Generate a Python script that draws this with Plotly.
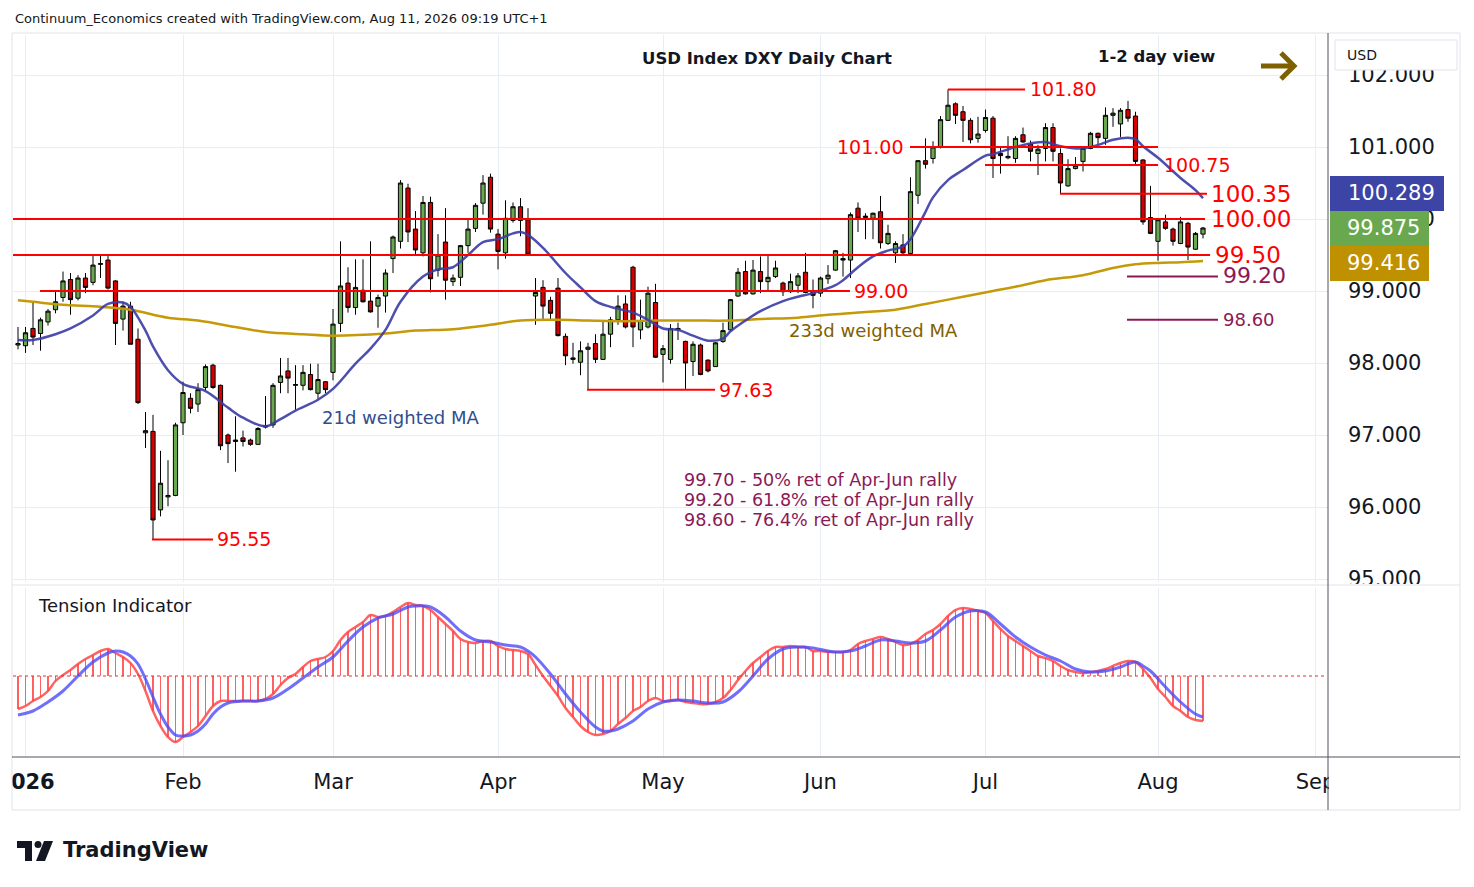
import plotly.graph_objects as go
import pandas as pd

FONT = "DejaVu Sans"

# ---------------- data ----------------
DATES = ["2025-12-31"] + [d.strftime("%Y-%m-%d") for d in pd.bdate_range("2026-01-02", "2026-08-11")]
CAL = ["2025-12-31"] + [d.strftime("%Y-%m-%d") for d in pd.bdate_range("2026-01-02", "2026-09-30")]
MONTH_LABELS = ["<b>2026</b>", "Feb", "Mar", "Apr", "May", "Jun", "Jul", "Aug", "Sep"]

OPEN = [98.25, 98.24, 98.48, 98.41, 98.57, 98.74, 98.91, 99.16, 98.90, 99.18,
        99.12, 99.37, 99.43, 99.14, 98.61, 98.79, 98.33, 97.03, 97.05, 95.96,
        96.14, 96.16, 97.17, 97.51, 97.43, 97.66, 97.97, 97.69, 97.00, 96.91,
        96.96, 96.93, 96.87, 97.11, 97.14, 97.73, 97.89, 97.69, 97.69, 97.84,
        97.58, 97.74, 97.87, 98.55, 99.11, 98.77, 99.01, 98.86, 98.79, 98.93,
        99.45, 99.69, 100.43, 99.86, 99.53, 100.23, 99.29, 99.68, 99.13, 99.19,
        99.63, 99.87, 100.22, 100.58, 99.79, 99.53, 99.98, 100.17, 99.99, 98.93,
        99.05, 98.87, 99.04, 98.37, 98.05, 98.01, 98.19, 98.27, 98.05, 98.40,
        98.60, 98.82, 99.33, 98.46, 98.50, 98.84, 98.12, 98.05, 98.46, 98.30,
        98.02, 98.25, 98.04, 97.95, 98.30, 98.46, 98.93, 99.27, 98.96, 99.27,
        99.13, 99.20, 99.11, 98.99, 99.08, 99.26, 99.00, 98.97, 99.17, 99.29,
        99.45, 99.43, 100.15, 100.02, 100.01, 100.10, 99.66, 99.53, 99.64, 99.52,
        100.33, 100.81, 100.84, 101.00, 101.37, 101.60, 101.49, 101.37, 101.12, 101.23,
        101.40, 100.91, 100.85, 100.84, 101.17, 101.04, 100.91, 100.98, 101.27, 100.91,
        100.46, 100.70, 100.80, 100.98, 101.19, 101.12, 101.44, 101.32, 101.52, 101.43,
        100.82, 100.02, 99.69, 99.96, 99.86, 99.66, 99.94, 99.58, 99.79]
HIGH = [98.50, 98.50, 98.85, 98.63, 98.75, 98.99, 99.27, 99.25, 99.22, 99.25,
        99.49, 99.49, 99.49, 99.15, 98.85, 98.85, 98.48, 97.32, 97.28, 96.78,
        96.65, 97.17, 97.74, 97.58, 97.72, 97.98, 97.99, 97.70, 97.02, 97.26,
        97.06, 96.95, 97.11, 97.54, 97.72, 98.07, 98.07, 97.97, 97.97, 97.99,
        97.99, 97.75, 98.75, 99.69, 99.33, 99.44, 99.44, 99.69, 98.95, 99.30,
        99.77, 100.54, 100.49, 100.11, 100.32, 100.31, 99.79, 100.15, 99.23, 99.64,
        99.99, 100.22, 100.61, 100.63, 99.86, 100.26, 100.23, 100.29, 100.15, 99.18,
        99.15, 98.92, 99.18, 98.41, 98.28, 98.30, 98.28, 98.40, 98.57, 98.64,
        98.94, 98.94, 99.35, 98.88, 99.06, 99.10, 98.25, 98.54, 98.56, 98.31,
        98.30, 98.27, 98.05, 98.29, 98.56, 98.89, 99.32, 99.42, 99.43, 99.48,
        99.49, 99.42, 99.13, 99.24, 99.25, 99.53, 99.16, 99.20, 99.36, 99.57,
        99.53, 100.09, 100.23, 100.08, 100.09, 100.32, 99.92, 99.69, 99.79, 100.58,
        100.82, 101.12, 101.08, 101.43, 101.80, 101.62, 101.57, 101.40, 101.42, 101.52,
        101.43, 101.00, 101.15, 101.15, 101.27, 101.09, 101.03, 101.33, 101.33, 100.98,
        100.83, 100.86, 101.00, 101.21, 101.20, 101.55, 101.54, 101.54, 101.64, 101.49,
        100.83, 100.46, 100.00, 100.06, 99.88, 100.03, 99.96, 99.82, 99.89]
LOW = [98.19, 98.14, 98.25, 98.17, 98.52, 98.69, 98.85, 98.67, 98.87, 98.97,
       99.08, 99.18, 99.02, 98.25, 98.45, 98.26, 97.43, 96.82, 95.55, 95.87,
       96.01, 96.15, 97.00, 97.30, 97.32, 97.62, 97.64, 96.79, 96.61, 96.49,
       96.84, 96.85, 96.87, 97.09, 97.10, 97.58, 97.58, 97.35, 97.62, 97.62,
       97.50, 97.58, 97.76, 98.43, 98.70, 98.67, 98.84, 98.70, 98.49, 98.70,
       99.25, 99.59, 99.68, 99.51, 99.48, 98.98, 99.20, 98.88, 99.07, 99.07,
       99.53, 99.82, 100.06, 99.81, 99.30, 99.45, 99.95, 99.76, 99.50, 98.53,
       98.61, 98.61, 98.37, 97.97, 97.99, 97.83, 97.63, 98.00, 98.05, 98.22,
       98.53, 98.48, 98.22, 98.33, 98.48, 98.07, 97.73, 97.99, 98.32, 97.64,
       97.82, 97.83, 97.87, 97.95, 98.28, 98.45, 98.92, 98.95, 98.95, 98.97,
       98.99, 99.18, 98.93, 98.97, 98.97, 98.97, 98.76, 98.92, 99.10, 99.28,
       99.20, 99.18, 99.82, 99.72, 99.72, 99.59, 99.64, 99.39, 99.49, 99.51,
       100.21, 100.70, 100.77, 100.98, 101.36, 101.32, 101.07, 101.05, 101.06, 101.20,
       100.57, 100.63, 100.83, 100.78, 101.06, 100.80, 100.61, 100.80, 100.80, 100.35,
       100.45, 100.69, 100.66, 100.97, 101.03, 101.03, 101.28, 101.14, 101.35, 100.76,
       99.92, 99.79, 99.42, 99.85, 99.63, 99.65, 99.43, 99.57, 99.73]
CLOSE = [98.27, 98.42, 98.36, 98.60, 98.72, 98.85, 99.14, 98.88, 99.18, 99.05,
         99.36, 99.38, 99.04, 98.55, 98.79, 98.26, 97.45, 97.06, 95.82, 96.33,
         96.16, 97.14, 97.59, 97.37, 97.63, 97.95, 97.66, 96.85, 96.88, 96.93,
         96.91, 96.87, 97.09, 97.13, 97.69, 97.82, 97.79, 97.70, 97.87, 97.63,
         97.77, 97.63, 98.54, 99.07, 98.77, 99.05, 98.85, 98.71, 98.91, 99.25,
         99.75, 100.50, 99.82, 99.57, 100.23, 99.17, 99.50, 99.15, 99.18, 99.63,
         99.86, 100.19, 100.50, 99.86, 99.55, 100.01, 100.17, 99.98, 99.51, 98.98,
         98.79, 98.69, 98.38, 98.10, 98.07, 98.17, 98.22, 98.05, 98.40, 98.60,
         98.79, 98.50, 98.50, 98.59, 98.97, 98.08, 98.20, 98.48, 98.48, 98.00,
         98.26, 97.84, 97.89, 98.28, 98.45, 98.88, 99.26, 98.96, 99.29, 99.13,
         99.19, 99.32, 98.99, 99.13, 99.21, 98.98, 98.94, 99.18, 99.22, 99.56,
         99.43, 100.06, 100.01, 100.04, 100.08, 99.67, 99.80, 99.66, 99.53, 100.38,
         100.81, 100.76, 101.00, 101.38, 101.58, 101.44, 101.37, 101.10, 101.18, 101.41,
         100.84, 100.88, 100.87, 101.12, 101.07, 100.94, 100.97, 101.27, 100.94, 100.50,
         100.70, 100.74, 100.98, 101.19, 101.13, 101.44, 101.47, 101.51, 101.40, 100.80,
         99.96, 99.80, 99.99, 99.87, 99.69, 99.96, 99.61, 99.80, 99.875]

# 21-day weighted MA
MA21_AT = [0, 2, 5, 7, 10, 12, 14, 15, 17, 18, 20, 22, 25, 28, 30, 33, 35, 37, 40, 42,
           45, 47, 49, 51, 54, 56, 58, 60, 62, 64, 66, 67, 68, 70, 73, 75, 77, 79, 82, 84,
           86, 88, 90, 92, 94, 95, 97, 99, 102, 104, 106, 109, 110, 112, 114, 116, 118, 119, 121, 122,
           124, 126, 129, 130, 133, 135, 137, 139, 142, 144, 146, 148, 149, 150, 152, 155, 157, 158]
MA21 = [98.32, 98.32, 98.40, 98.48, 98.66, 98.82, 98.84, 98.78, 98.45, 98.23, 97.90, 97.71, 97.61, 97.38, 97.24, 97.12, 97.22, 97.34, 97.49, 97.64,
        97.99, 98.20, 98.46, 98.85, 99.20, 99.30, 99.33, 99.50, 99.68, 99.72, 99.80, 99.82, 99.78, 99.60, 99.25, 99.05, 98.86, 98.78, 98.70, 98.60,
        98.48, 98.46, 98.38, 98.31, 98.34, 98.44, 98.59, 98.72, 98.86, 98.92, 98.97, 99.08, 99.15, 99.33, 99.48, 99.56, 99.62, 99.72, 100.10, 100.30,
        100.54, 100.68, 100.88, 100.90, 101.00, 101.05, 101.07, 101.01, 100.98, 101.03, 101.10, 101.13, 101.11, 101.01, 100.85, 100.57, 100.40, 100.289]

# 233-day weighted MA
MA233_AT = [0, 2, 6, 11, 15, 20, 24, 29, 33, 38, 42, 49, 53, 58, 63, 67, 72, 76, 81, 85,
            90, 95, 99, 104, 108, 112, 117, 121, 126, 130, 133, 137, 142, 146, 149, 152, 155, 158]
MA233 = [98.87, 98.85, 98.81, 98.78, 98.74, 98.63, 98.59, 98.50, 98.43, 98.40, 98.38, 98.41, 98.45, 98.47, 98.53, 98.59, 98.60, 98.59, 98.58, 98.59,
         98.59, 98.59, 98.61, 98.63, 98.67, 98.70, 98.74, 98.82, 98.92, 99.00, 99.06, 99.15, 99.22, 99.32, 99.37, 99.39, 99.40, 99.416]

# Tension indicator (oscillator per bar, signal read at points)
TENSION = [-33, -30, -25, -21, -15, -5, 1, 6, 12, 17,
           21, 25, 27, 23, 19, 13, 2, -15, -35, -50,
           -61, -66, -61, -56, -50, -40, -30, -25, -25, -25,
           -25, -25, -25, -23, -18, -9, -2, 2, 9, 15,
           17, 19, 25, 36, 44, 49, 54, 61, 59, 60,
           64, 69, 73, 71, 70, 66, 59, 52, 45, 37,
           34, 33, 35, 35, 30, 27, 26, 25, 22, 11,
           0, -10, -20, -32, -41, -50, -56, -59, -58, -55,
           -48, -42, -35, -31, -25, -22, -25, -25, -24, -26,
           -27, -28, -28, -26, -22, -14, -4, 5, 13, 19,
           25, 29, 29, 30, 29, 29, 25, 25, 24, 24,
           24, 26, 32, 35, 37, 39, 37, 34, 31, 32,
           36, 42, 46, 52, 60, 66, 68, 67, 65, 63,
           55, 47, 40, 35, 30, 25, 20, 18, 15, 10,
           6, 4, 3, 4, 5, 7, 10, 13, 15, 14,
           7, -2, -13, -21, -30, -35, -41, -44, -45]
SIGNAL_AT = [0, 2, 4, 6, 8, 10, 12, 13, 14, 15, 16, 17, 18, 19, 20, 21, 22, 23, 24, 25,
             26, 27, 28, 30, 32, 34, 36, 38, 40, 42, 44, 46, 48, 50, 52, 53, 55, 57, 59, 61,
             63, 65, 67, 68, 69, 71, 73, 75, 77, 78, 79, 80, 82, 84, 86, 88, 90, 92, 94, 96,
             98, 100, 102, 104, 106, 108, 109, 111, 113, 115, 117, 119, 121, 123, 125, 127, 129, 131, 133, 135,
             137, 139, 141, 143, 145, 147, 149, 150, 151, 153, 155, 157, 158]
SIGNAL = [-39, -35, -26, -15, 0, 14, 23, 25, 24, 20, 12, -3, -21, -38, -51, -59, -60, -59, -55, -48,
          -38, -31, -27, -25, -25, -22, -13, -2, 9, 19, 35, 49, 58, 62, 69, 70, 69, 59, 45, 36,
          34, 31, 29, 25, 19, 2, -18, -36, -51, -55, -55, -53, -45, -33, -26, -24, -25, -27, -26, -16,
          0, 17, 27, 29, 28, 25, 24, 25, 30, 36, 35, 33, 35, 46, 59, 65, 64, 52, 39, 29,
          21, 15, 7, 4, 5, 9, 14, 10, 5, -11, -26, -38, -41]

LEVELS = [101.80, 101.00, 100.75, 100.35, 100.00, 99.50, 99.00, 97.63, 95.55]
FIB_LEVELS = [99.20, 98.60]
FIB_NOTES = ["99.70 - 50% ret of Apr-Jun rally",
             "99.20 - 61.8% ret of Apr-Jun rally",
             "98.60 - 76.4% ret of Apr-Jun rally"]
PRICE_TICKS = [95, 96, 97, 98, 99, 100, 101, 102]

# ---------------- geometry helpers ----------------
W, H = 1474, 887
PL, PR, PT, PB = 13, 1328, 35, 757
BAR0, STEP = 18.0, 7.5


def pxx(px):
    return (px - PL) / (PR - PL)


def pxy(py):
    return (PB - py) / (PB - PT)


def ix(px):
    return (px - BAR0) / STEP


X = list(range(len(DATES)))
month_idx = []
seen = set()
for k, d in enumerate(CAL):
    m = d[:7]
    if d.startswith("2025"):
        continue
    if m not in seen:
        seen.add(m)
        month_idx.append(k)

XR = [ix(PL), ix(PR)]
PRICE_RANGE = [101 - (582 - 147) / 72, 101 + (147 - PT) / 72]
GRID = "#e8edf3"
RED = "#ff0000"
PURPLE = "#8a1a55"
INK = "#131722"

fig = go.Figure()

fig.add_trace(go.Candlestick(
    x=X, open=OPEN, high=HIGH, low=LOW, close=CLOSE, xaxis="x", yaxis="y",
    increasing=dict(line=dict(color="#000000", width=1), fillcolor="#6aa84f"),
    decreasing=dict(line=dict(color="#000000", width=1), fillcolor="#d40000"),
    whiskerwidth=0, hoverinfo="skip"))

fig.add_trace(go.Scatter(x=MA233_AT, y=MA233, mode="lines", xaxis="x", yaxis="y",
                         line=dict(color="#c59a08", width=2.5, shape="spline"), hoverinfo="skip"))
fig.add_trace(go.Scatter(x=MA21_AT, y=MA21, mode="lines", xaxis="x", yaxis="y",
                         line=dict(color="rgba(58,60,165,0.9)", width=2.5, shape="spline"), hoverinfo="skip"))

# level lines: (start px, end px, label px, anchor, font size)
level_style = {
    101.80: (948, 1025, 1028, "left", 19),
    101.00: (910, 1158, 905, "right", 19),
    100.75: (985, 1158, 1162, "left", 19),
    100.35: (1060, 1207, 1209, "left", 23),
    100.00: (13, 1205, 1209, "left", 23),
    99.50: (13, 1210, 1213, "left", 23),
    99.00: (40, 850, 852, "left", 19),
    97.63: (587, 715, 717, "left", 19),
    95.55: (152, 213, 215, "left", 19),
}
fib_style = {
    99.20: (1127, 1218, 1221, "left", 22),
    98.60: (1127, 1218, 1221, "left", 18),
}

annotations = []
for lv in LEVELS:
    s, e, lx, anc, fs = level_style[lv]
    fig.add_trace(go.Scatter(x=[ix(s), ix(e)], y=[lv, lv], mode="lines", xaxis="x", yaxis="y",
                             line=dict(color=RED, width=2), hoverinfo="skip"))
    annotations.append(dict(text="%.2f" % lv, x=ix(lx), y=lv, xref="x", yref="y", xanchor=anc,
                            yanchor="middle", showarrow=False, font=dict(size=fs, color=RED, family=FONT)))
for lv in FIB_LEVELS:
    s, e, lx, anc, fs = fib_style[lv]
    fig.add_trace(go.Scatter(x=[ix(s), ix(e)], y=[lv, lv], mode="lines", xaxis="x", yaxis="y",
                             line=dict(color=PURPLE, width=2), hoverinfo="skip"))
    annotations.append(dict(text="%.2f" % lv, x=ix(lx), y=lv + (0.02 if lv == 99.20 else 0), xref="x", yref="y",
                            xanchor=anc, yanchor="middle", showarrow=False,
                            font=dict(size=fs, color=PURPLE, family=FONT)))

# tension pane
fig.add_trace(go.Bar(x=X, y=TENSION, xaxis="x2", yaxis="y2", width=0.25,
                     marker=dict(color="rgba(255,80,80,0.9)", line=dict(width=0)), hoverinfo="skip"))
fig.add_trace(go.Scatter(x=X, y=TENSION, mode="lines", xaxis="x2", yaxis="y2",
                         line=dict(color="rgba(255,70,70,0.85)", width=2.5, shape="spline"), hoverinfo="skip"))
fig.add_trace(go.Scatter(x=SIGNAL_AT, y=SIGNAL, mode="lines", xaxis="x2", yaxis="y2",
                         line=dict(color="rgba(75,75,250,0.8)", width=3, shape="spline"), hoverinfo="skip"))


def ann_px(text, px, py, size, color, xanchor="left", bold=False):
    return dict(text=("<b>%s</b>" % text) if bold else text, x=pxx(px), y=pxy(py), xref="paper", yref="paper",
                xanchor=xanchor, yanchor="middle", showarrow=False,
                font=dict(size=size, color=color, family=FONT))


annotations += [
    ann_px("Continuum_Economics created with TradingView.com, Aug 11, 2026 09:19 UTC+1", 13, 19, 13, INK),
    ann_px("USD Index DXY Daily Chart", 767, 58, 16.5, INK, "center", bold=True),
    ann_px("1-2 day view", 1156, 56, 16.5, INK, "center", bold=True),
    ann_px("21d weighted MA", 320, 417, 18, "#2f4e8e"),
    ann_px("233d weighted MA", 787, 330, 18, "#7f6000"),
    ann_px(FIB_NOTES[0], 682, 480, 17.6, PURPLE),
    ann_px(FIB_NOTES[1], 682, 500, 17.6, PURPLE),
    ann_px(FIB_NOTES[2], 682, 520, 17.6, PURPLE),
    ann_px("Tension Indicator", 36, 605, 18, INK),
    ann_px("USD", 1345, 55, 14, INK),
    ann_px("%.3f" % MA21[-1], 1346, 193, 21, "#ffffff"),
    ann_px("%.3f" % CLOSE[-1], 1345, 228, 21, "#ffffff"),
    ann_px("%.3f" % MA233[-1], 1345, 263, 21, "#ffffff"),
    ann_px("TradingView", 61, 850, 21, INK, bold=True),
]


def rect_px(x0, y0, x1, y1, fill=None, line=None, lw=1):
    return dict(type="rect", xref="paper", yref="paper", x0=pxx(x0), x1=pxx(x1), y0=pxy(y1), y1=pxy(y0),
                fillcolor=fill if fill else "rgba(0,0,0,0)",
                line=dict(color=line if line else "rgba(0,0,0,0)", width=lw if line else 0), layer="above")


def line_px(x0, y0, x1, y1, color, lw=1, dash="solid"):
    return dict(type="line", xref="paper", yref="paper", x0=pxx(x0), x1=pxx(x1), y0=pxy(y0), y1=pxy(y1),
                line=dict(color=color, width=lw, dash=dash), layer="above")


def path_px(pts, color, lw, fill=None, closed=False):
    d = "M" + " L".join("%f,%f" % (pxx(a), pxy(b)) for a, b in pts) + (" Z" if closed else "")
    return dict(type="path", xref="paper", yref="paper", path=d,
                fillcolor=fill if fill else "rgba(0,0,0,0)",
                line=dict(color=color, width=lw), layer="above")


shapes = [
    # zero line of tension indicator
    dict(type="line", xref="paper", yref="y2", x0=0, x1=pxx(1326), y0=0, y1=0,
         line=dict(color="#e03030", width=1.2, dash="dot"), layer="above"),
    # covers
    rect_px(1329, 584, 1459, 756, fill="#ffffff"),
    rect_px(1329, 758, 1459, 809, fill="#ffffff"),
    rect_px(0, 758, 12, 809, fill="#ffffff"),
    # price label boxes
    rect_px(1330, 176, 1444, 211, fill="#3c44a6"),
    rect_px(1330, 211, 1429, 246, fill="#6aa84f"),
    rect_px(1330, 246, 1429, 281, fill="#bf9000"),
    # currency box
    rect_px(1335, 40, 1457, 70, fill="#ffffff", line="#e0e3eb"),
    # frame and separators
    rect_px(12, 33, 1460, 810, line="#e0e3eb"),
    line_px(12, 585, 1460, 585, "#e0e3eb"),
    line_px(1328, 33, 1328, 810, "#50535e"),
    line_px(12, 757, 1460, 757, "#50535e"),
    # arrow
    line_px(1261, 66, 1292, 66, "#7f6000", 5),
    path_px([(1281, 53), (1294, 66), (1281, 79)], "#7f6000", 5),
    # TradingView logo (approx.)
    path_px([(17, 841), (32, 841), (32, 861), (25, 861), (25, 848), (17, 848)], INK, 0, fill=INK, closed=True),
    dict(type="circle", xref="paper", yref="paper", x0=pxx(34.5), x1=pxx(41.5), y0=pxy(848), y1=pxy(841),
         fillcolor=INK, line=dict(width=0), layer="above"),
    path_px([(44, 841), (53, 841), (45, 861), (36, 861)], INK, 0, fill=INK, closed=True),
]

fig.update_layout(
    width=W, height=H,
    margin=dict(l=PL, r=W - PR, t=PT, b=H - PB, pad=0, autoexpand=False),
    paper_bgcolor="#ffffff", plot_bgcolor="#ffffff",
    showlegend=False, hovermode=False,
    font=dict(family=FONT, color=INK),
    bargap=0, boxgap=0.2,
    xaxis=dict(domain=[0, 1], anchor="y", range=XR, tickvals=month_idx, showticklabels=False,
               showgrid=True, gridcolor=GRID, gridwidth=1, zeroline=False, showline=False,
               rangeslider=dict(visible=False), fixedrange=True, automargin=False),
    yaxis=dict(domain=[(PB - 582) / (PB - PT), 1], anchor="x", range=PRICE_RANGE, side="right",
               tickvals=PRICE_TICKS, tickformat=".3f", showgrid=True, gridcolor=GRID, zeroline=False,
               ticks="", ticklabelstandoff=19, tickfont=dict(size=21, color=INK, family=FONT),
               showline=False, fixedrange=True, automargin=False),
    xaxis2=dict(domain=[0, 1], anchor="y2", range=XR, tickvals=month_idx, ticktext=MONTH_LABELS,
                showgrid=True, gridcolor=GRID, zeroline=False, ticks="", ticklabelstandoff=10,
                ticklabeloverflow="allow", automargin=False,
                tickfont=dict(size=21, color=INK, family=FONT), showline=False, fixedrange=True),
    yaxis2=dict(domain=[0, (PB - 588) / (PB - PT)], anchor="x2", range=[-81, 88], showticklabels=False,
                showgrid=False, zeroline=False, fixedrange=True, automargin=False),
    annotations=annotations,
    shapes=shapes,
)

fig.write_html("out.html", config={"displayModeBar": False},
               post_script="document.body.style.margin='0px';document.body.style.padding='0px';")
